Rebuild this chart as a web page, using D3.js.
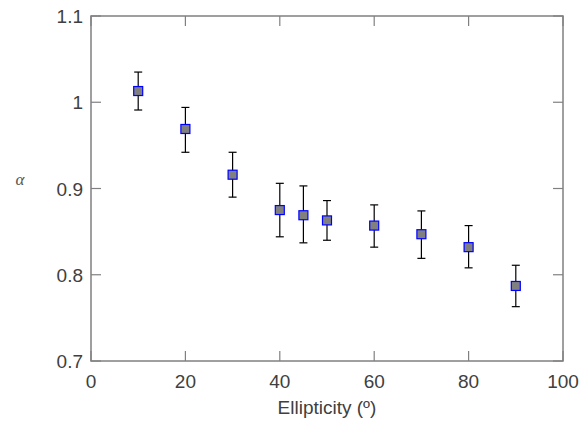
<!DOCTYPE html>
<html>
<head>
<meta charset="utf-8">
<script src="https://cdn.jsdelivr.net/npm/d3@7"></script>
<style>
  body { margin: 0; background: #fff; }
  text { font-family: "Liberation Sans", Arial, sans-serif; }
</style>
</head>
<body>
<div id="chart"></div>
<script>
// data
const ellipticity = [10, 20, 30, 40, 45, 50, 60, 70, 80, 90];
const alpha       = [1.013, 0.969, 0.916, 0.875, 0.869, 0.863, 0.857, 0.847, 0.832, 0.787];
const errUpper    = [1.035, 0.994, 0.942, 0.906, 0.903, 0.886, 0.881, 0.874, 0.857, 0.811];
const errLower    = [0.991, 0.942, 0.890, 0.844, 0.837, 0.840, 0.832, 0.819, 0.808, 0.763];
const xTicks = [0, 20, 40, 60, 80, 100];
const yTicks = [0.7, 0.8, 0.9, 1.0, 1.1];

const width = 581, height = 423;
const margin = { top: 16, right: 18, bottom: 62, left: 91 };

const svg = d3.select("#chart").append("svg")
  .attr("width", width).attr("height", height);

const x = d3.scaleLinear().domain([0, 100]).range([margin.left, width - margin.right]);
const y = d3.scaleLinear().domain([0.7, 1.1]).range([height - margin.bottom, margin.top]);

const axisColor = "#808080";
const textColor = "#404040";
const tickLen = 10;

// axes box
const g = svg.append("g");
g.append("rect")
  .attr("x", x(0)).attr("y", y(1.1))
  .attr("width", x(100) - x(0)).attr("height", y(0.7) - y(1.1))
  .attr("fill", "none").attr("stroke", axisColor).attr("stroke-width", 1.5);

// ticks inward on all sides
xTicks.forEach(t => {
  g.append("line").attr("x1", x(t)).attr("x2", x(t))
    .attr("y1", y(0.7)).attr("y2", y(0.7) - tickLen)
    .attr("stroke", axisColor).attr("stroke-width", 1.2);
  g.append("line").attr("x1", x(t)).attr("x2", x(t))
    .attr("y1", y(1.1)).attr("y2", y(1.1) + tickLen)
    .attr("stroke", axisColor).attr("stroke-width", 1.2);
  g.append("text").attr("x", x(t)).attr("y", y(0.7) + 27)
    .attr("text-anchor", "middle").attr("fill", textColor)
    .style("font-size", "19px").text(t);
});
yTicks.forEach(t => {
  g.append("line").attr("x1", x(0)).attr("x2", x(0) + tickLen)
    .attr("y1", y(t)).attr("y2", y(t))
    .attr("stroke", axisColor).attr("stroke-width", 1.2);
  g.append("line").attr("x1", x(100)).attr("x2", x(100) - tickLen)
    .attr("y1", y(t)).attr("y2", y(t))
    .attr("stroke", axisColor).attr("stroke-width", 1.2);
  g.append("text").attr("x", x(0) - 8).attr("y", y(t) + 7)
    .attr("text-anchor", "end").attr("fill", textColor)
    .style("font-size", "19px").text(t === 1 ? "1" : d3.format(".1f")(t));
});

// labels
svg.append("text")
  .attr("x", (x(0) + x(100)) / 2).attr("y", height - 9)
  .attr("text-anchor", "middle").attr("fill", textColor)
  .style("font-size", "19px").text("Ellipticity (º)");
svg.append("text")
  .attr("x", 20).attr("y", 185)
  .attr("text-anchor", "middle").attr("fill", "#555")
  .style("font-family", "'Liberation Serif', 'DejaVu Serif', serif")
  .style("font-style", "italic").style("font-size", "17px").text("α");

// error bars
const pts = ellipticity.map((e, i) => ({ e, a: alpha[i], hi: errUpper[i], lo: errLower[i] }));
const eb = svg.append("g").attr("stroke", "#000").attr("stroke-width", 1.2);
pts.forEach(d => {
  eb.append("line").attr("x1", x(d.e)).attr("x2", x(d.e)).attr("y1", y(d.hi)).attr("y2", y(d.lo));
  eb.append("line").attr("x1", x(d.e) - 4).attr("x2", x(d.e) + 4).attr("y1", y(d.hi)).attr("y2", y(d.hi));
  eb.append("line").attr("x1", x(d.e) - 4).attr("x2", x(d.e) + 4).attr("y1", y(d.lo)).attr("y2", y(d.lo));
});

// markers
const s = 9;
svg.append("g").selectAll("rect").data(pts).join("rect")
  .attr("x", d => x(d.e) - s / 2).attr("y", d => y(d.a) - s / 2)
  .attr("width", s).attr("height", s)
  .attr("fill", "#808080").attr("stroke", "#0000ff").attr("stroke-width", 1.2);
</script>
</body>
</html>
